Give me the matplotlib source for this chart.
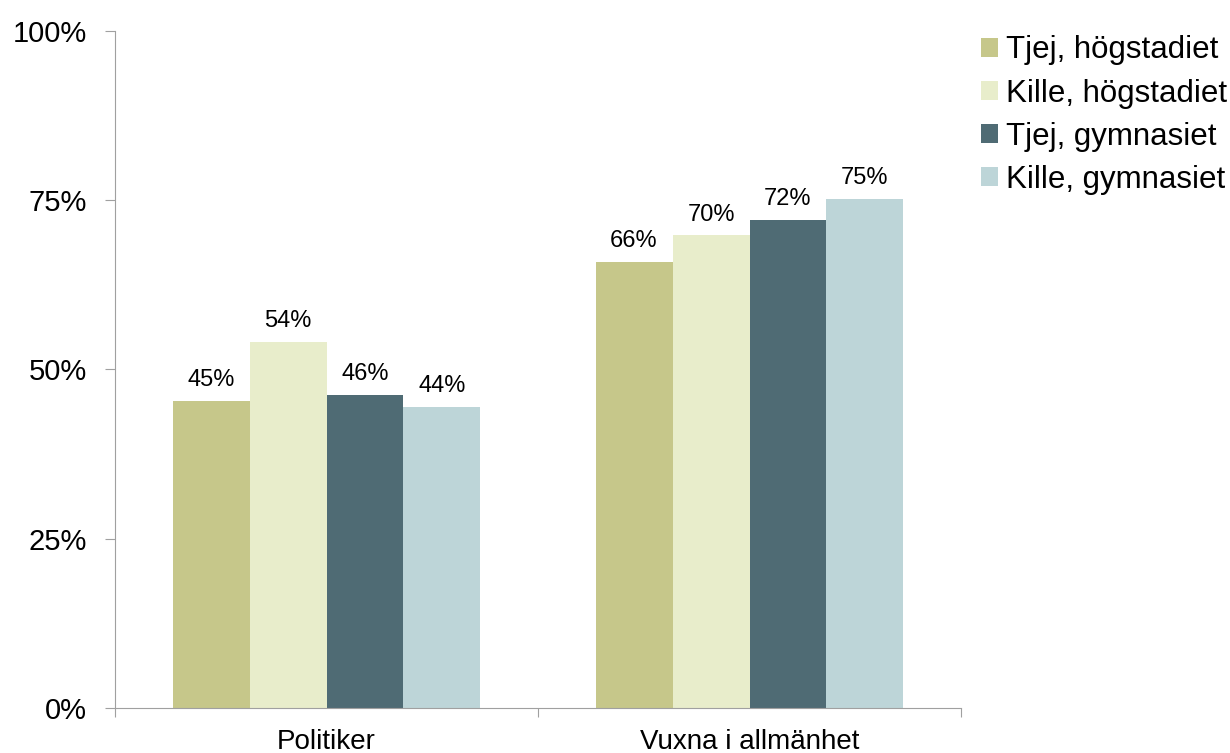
import matplotlib.pyplot as plt
import numpy as np

plt.rcParams['font.family'] = ['Liberation Sans', 'DejaVu Sans']

categories = ['Politiker', 'Vuxna i allmänhet']
series = ['Tjej, högstadiet', 'Kille, högstadiet', 'Tjej, gymnasiet', 'Kille, gymnasiet']
values = [
    [45.4, 65.9],
    [54.1, 69.8],
    [46.3, 72.1],
    [44.5, 75.2],
]
labels = [
    ['45%', '66%'],
    ['54%', '70%'],
    ['46%', '72%'],
    ['44%', '75%'],
]
colors = ['#C6C78A', '#E8EDCB', '#4F6B74', '#BDD5D8']

fig = plt.figure(figsize=(12.3, 7.53), dpi=100)
ax = fig.add_axes([0.0935, 0.0598, 0.6878, 0.899])

x = np.arange(len(categories))
w = 0.182
for i, (name, vals) in enumerate(zip(series, values)):
    pos = x + (i - 1.5) * w
    ax.bar(pos, vals, width=w, color=colors[i], label=name)
    for px, v, t in zip(pos, vals, labels[i]):
        ax.annotate(t, (px, v), xytext=(0, 7), textcoords='offset points',
                    ha='center', va='bottom', fontsize=17)

ax.set_xlim(-0.5, 1.5)
ax.set_ylim(0, 100)
ax.set_yticks([0, 25, 50, 75, 100])
ax.set_yticklabels(['0%', '25%', '50%', '75%', '100%'], fontsize=21)
ax.set_xticks([-0.5, 0.5, 1.5], minor=False)
ax.set_xticklabels([])
ax.set_xticks(x, minor=True)
ax.set_xticklabels(categories, minor=True, fontsize=20)
ax.tick_params(axis='x', which='minor', length=0, pad=15)
ax.tick_params(axis='x', which='major', length=6.5, color='#A0A0A0', direction='out')
ax.tick_params(axis='y', length=7.5, color='#A0A0A0', direction='out', pad=12.5)

for s in ['top', 'right']:
    ax.spines[s].set_visible(False)
for s in ['left', 'bottom']:
    ax.spines[s].set_color('#A0A0A0')

fig.legend(loc='upper left', bbox_to_anchor=(0.7976, 0.953), frameon=False,
           fontsize=22.5, handlelength=0.54, handleheight=0.54, handletextpad=0.27,
           labelspacing=0.42, borderaxespad=0, borderpad=0)

fig.savefig('out.png', dpi=100)
